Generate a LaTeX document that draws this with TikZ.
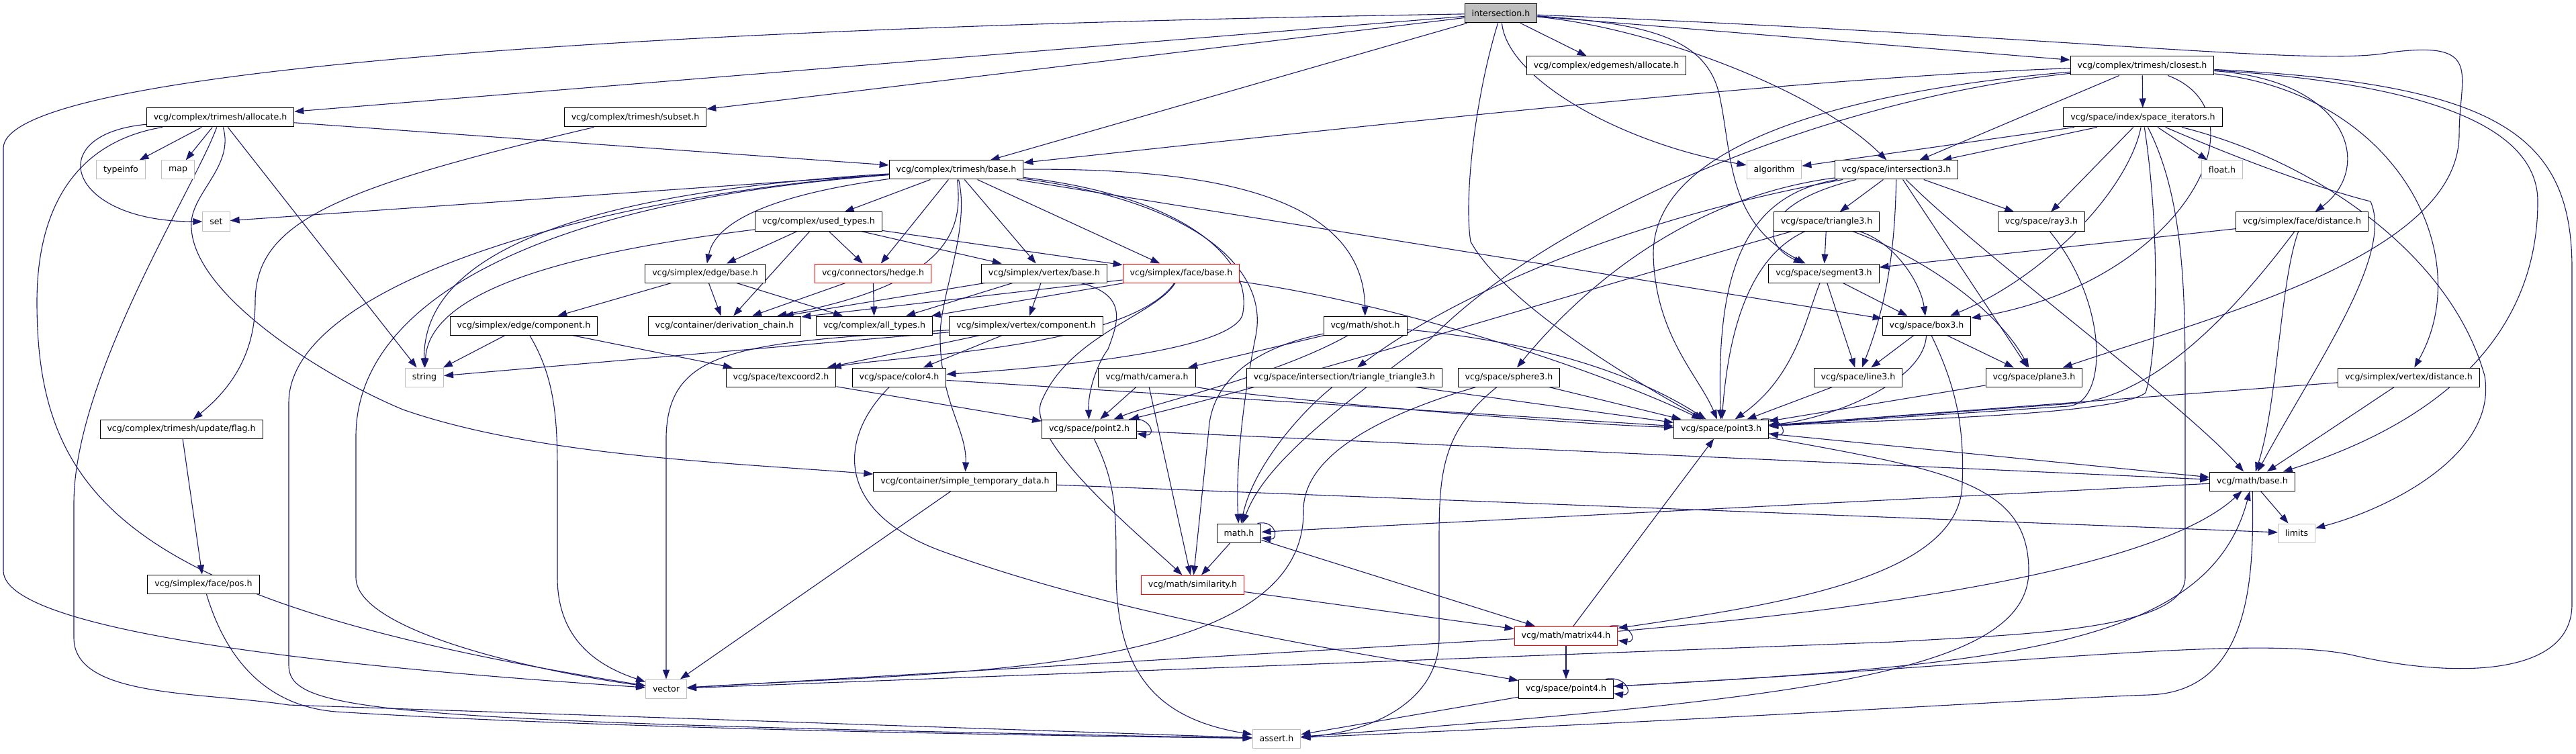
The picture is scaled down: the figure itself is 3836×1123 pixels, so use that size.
\documentclass[tikz,border=0pt]{standalone}
\usepackage{fontspec}
\setmainfont{DejaVu Sans}
\usetikzlibrary{arrows.meta,backgrounds,calc}
\definecolor{edgeblue}{RGB}{25,25,112}
\definecolor{sysgray}{RGB}{191,191,191}
\tikzset{
  header-node/.style={draw=black, line width=1pt, fill=white, font=\fontsize{12.6}{14}\selectfont,
    inner xsep=10.5pt, inner ysep=0pt, minimum height=28pt},
  truncated-node/.style={header-node, draw=red},
  system-node/.style={header-node, draw=sysgray},
  root-node/.style={header-node, fill=sysgray},
  include-arrow/.style={-{Triangle[length=14pt,width=10pt]}, line width=1.1pt, draw=edgeblue}
}
\begin{document}
\begin{tikzpicture}[x=1pt,y=-1pt]
\useasboundingbox (0,0) rectangle (3836,1123);
% headers, row by row
\node[root-node] (inter) at (2235,20) {intersection.h};
\node[header-node] (emalloc) at (2392,98) {vcg/complex/edgemesh/allocate.h};
\node[header-node] (closest) at (3190,98) {vcg/complex/trimesh/closest.h};
\node[header-node] (tmalloc) at (328,175) {vcg/complex/trimesh/allocate.h};
\node[header-node] (subset) at (946,175) {vcg/complex/trimesh/subset.h};
\node[header-node] (spaceit) at (3191,175) {vcg/space/index/space\_iterators.h};
\node[system-node] (typeinfo) at (180,253) {typeinfo};
\node[system-node] (map) at (265,253) {map};
\node[header-node] (tmbase) at (1424,253) {vcg/complex/trimesh/base.h};
\node[system-node] (algorithm) at (2642,253) {algorithm};
\node[header-node] (isect3) at (2824,253) {vcg/space/intersection3.h};
\node[system-node] (floath) at (3309,253) {float.h};
\node[system-node] (set) at (322,330) {set};
\node[header-node] (usedtypes) at (1219,330) {vcg/complex/used\_types.h};
\node[header-node] (tri3) at (2720,330) {vcg/space/triangle3.h};
\node[header-node] (ray3) at (3040,330) {vcg/space/ray3.h};
\node[header-node] (facedist) at (3428,330) {vcg/simplex/face/distance.h};
\node[header-node] (edgebase) at (1050,407) {vcg/simplex/edge/base.h};
\node[truncated-node] (hedge) at (1300,407) {vcg/connectors/hedge.h};
\node[header-node] (vertbase) at (1555,407) {vcg/simplex/vertex/base.h};
\node[truncated-node] (facebase) at (1759,407) {vcg/simplex/face/base.h};
\node[header-node] (seg3) at (2716,407) {vcg/space/segment3.h};
\node[header-node] (edgecomp) at (780,485) {vcg/simplex/edge/component.h};
\node[header-node] (derivchain) at (1079,485) {vcg/container/derivation\_chain.h};
\node[header-node] (alltypes) at (1302,485) {vcg/complex/all\_types.h};
\node[header-node] (vertcomp) at (1528,485) {vcg/simplex/vertex/component.h};
\node[header-node] (shot) at (2033,485) {vcg/math/shot.h};
\node[header-node] (box3) at (2869,485) {vcg/space/box3.h};
\node[system-node] (string) at (632,562) {string};
\node[header-node] (texcoord2) at (1163,562) {vcg/space/texcoord2.h};
\node[header-node] (color4) at (1339,562) {vcg/space/color4.h};
\node[header-node] (camera) at (1708,562) {vcg/math/camera.h};
\node[header-node] (tritri3) at (2002,562) {vcg/space/intersection/triangle\_triangle3.h};
\node[header-node] (sphere3) at (2247,562) {vcg/space/sphere3.h};
\node[header-node] (line3) at (2767,562) {vcg/space/line3.h};
\node[header-node] (plane3) at (3029,562) {vcg/space/plane3.h};
\node[header-node] (vertdist) at (3587,562) {vcg/simplex/vertex/distance.h};
\node[header-node] (flag) at (270,639) {vcg/complex/trimesh/update/flag.h};
\node[header-node] (point2) at (1622,639) {vcg/space/point2.h};
\node[header-node] (point3) at (2563,639) {vcg/space/point3.h};
\node[header-node] (simpletemp) at (1437,717) {vcg/container/simple\_temporary\_data.h};
\node[header-node] (mathbase) at (3354,717) {vcg/math/base.h};
\node[header-node] (mathh) at (1845,794) {math.h};
\node[system-node] (limits) at (3420,794) {limits};
\node[header-node] (facepos) at (303,870) {vcg/simplex/face/pos.h};
\node[truncated-node] (similarity) at (1776,871) {vcg/math/similarity.h};
\node[truncated-node] (matrix44) at (2332,947) {vcg/math/matrix44.h};
\node[system-node] (vector) at (992,1026) {vector};
\node[header-node] (point4) at (2332,1026) {vcg/space/point4.h};
\node[system-node] (assert) at (1901,1100) {assert.h};
% include edges, behind the boxes
\begin{scope}[on background layer]
% intersection.h
\draw[include-arrow] (inter) -- (tmalloc);
\draw[include-arrow] (inter) -- (subset);
\draw[include-arrow] (inter) -- (tmbase);
\draw[include-arrow] (inter) -- (emalloc);
\draw[include-arrow] (inter) .. controls (2245,120) and (2420,215) .. (algorithm);
\draw[include-arrow] (inter) -- (closest);
\draw[include-arrow] (inter) .. controls (2450,40) and (2700,130) .. (isect3);
\draw[include-arrow] (inter) .. controls (2450,35) and (2540,55) .. (2560,140) .. controls (2580,230) and (2570,330) .. (seg3);
\draw[include-arrow] (inter) .. controls (2195,150) and (2180,300) .. (2190,360) .. controls (2240,450) and (2420,560) .. (point3);
\draw[include-arrow] (inter) .. controls (1000,40) and (10,100) .. (5,220) -- (5,850) .. controls (5,950) and (600,1000) .. (vector);
\draw[include-arrow] (inter) .. controls (3100,55) and (3450,100) .. (3560,78) .. controls (3700,60) and (3662,110) .. (3662,200) .. controls (3662,380) and (3300,470) .. (plane3);
% closest.h
\draw[include-arrow] (closest) .. controls (2700,115) and (2150,175) .. (tmbase);
\draw[include-arrow] (closest) -- (spaceit);
\draw[include-arrow] (closest) -- (isect3);
\draw[include-arrow] (closest) .. controls (3380,170) and (3250,420) .. (box3);
\draw[include-arrow] (closest) .. controls (3500,120) and (3535,250) .. (facedist);
\draw[include-arrow] (closest) .. controls (3570,140) and (3690,380) .. (vertdist);
\draw[include-arrow] (closest) .. controls (3620,125) and (3779,190) .. (3779,300) .. controls (3779,480) and (3660,620) .. (mathbase);
\draw[include-arrow] (closest) .. controls (3720,125) and (3830,200) .. (3830,400) -- (3830,900) .. controls (3830,1010) and (3650,1010) .. (3500,975) .. controls (3350,945) and (3000,990) .. (point4);
\draw[include-arrow] (closest) .. controls (2700,140) and (2460,230) .. (2462,380) .. controls (2465,500) and (2530,560) .. (point3);
\draw[include-arrow] (closest) .. controls (2700,150) and (2300,330) .. (2130,505) .. controls (1960,630) and (1880,700) .. (mathh);
% space_iterators.h
\draw[include-arrow] (spaceit) -- (isect3);
\draw[include-arrow] (spaceit) -- (algorithm);
\draw[include-arrow] (spaceit) -- (ray3);
\draw[include-arrow] (spaceit) .. controls (3170,280) and (3050,410) .. (box3);
\draw[include-arrow] (spaceit) -- (floath);
\draw[include-arrow] (spaceit) .. controls (3215,330) and (3215,520) .. (3195,585) .. controls (3150,620) and (2800,625) .. (point3);
\draw[include-arrow] (spaceit) .. controls (3255,300) and (3254,450) .. (3254,600) -- (3254,860) .. controls (3254,940) and (3000,945) .. (2820,956) -- (vector);
\draw[include-arrow] (spaceit) .. controls (3330,235) and (3450,280) .. (3530,300) .. controls (3565,380) and (3450,540) .. (mathbase);
\draw[include-arrow] (spaceit) .. controls (3450,240) and (3650,380) .. (3700,560) .. controls (3720,680) and (3550,760) .. (limits);
% intersection3.h
\draw[include-arrow] (isect3) -- (tri3);
\draw[include-arrow] (isect3) .. controls (2630,300) and (2615,360) .. (seg3);
\draw[include-arrow] (isect3) -- (ray3);
\draw[include-arrow] (isect3) -- (plane3);
\draw[include-arrow] (isect3) .. controls (2822,350) and (2815,440) .. (line3);
\draw[include-arrow] (isect3) .. controls (2950,380) and (3250,600) .. (mathbase);
\draw[include-arrow] (isect3) .. controls (2540,290) and (2380,400) .. (sphere3);
\draw[include-arrow] (isect3) .. controls (2400,330) and (2150,450) .. (tritri3);
\draw[include-arrow] (isect3) .. controls (2600,290) and (2555,400) .. (point3);
% triangle3.h, segment3.h, box3.h
\draw[include-arrow] (tri3) -- (seg3);
\draw[include-arrow] (tri3) .. controls (2820,360) and (2860,420) .. (box3);
\draw[include-arrow] (tri3) .. controls (2880,390) and (2980,470) .. (plane3);
\draw[include-arrow] (tri3) .. controls (2610,380) and (2575,480) .. (point3);
\draw[include-arrow] (tri3) .. controls (2400,420) and (1950,560) .. (point2);
\draw[include-arrow] (seg3) -- (box3);
\draw[include-arrow] (seg3) -- (line3);
\draw[include-arrow] (seg3) .. controls (2690,470) and (2675,560) .. (point3);
\draw[include-arrow] (box3) -- (line3);
\draw[include-arrow] (box3) -- (plane3);
\draw[include-arrow] (box3) .. controls (2866,570) and (2720,625) .. (point3);
\draw[include-arrow] (box3) .. controls (2915,580) and (2925,640) .. (2922,720) .. controls (2920,860) and (2650,900) .. (matrix44);
\draw[include-arrow] (line3) -- (point3);
\draw[include-arrow] (plane3) -- (point3);
\draw[include-arrow] (ray3) .. controls (3140,450) and (3140,600) .. (3080,605) -- (point3);
% sphere3.h, triangle_triangle3.h
\draw[include-arrow] (sphere3) -- (point3);
\draw[include-arrow] (sphere3) .. controls (2050,620) and (1941,680) .. (1941,760) .. controls (1945,1010) and (1400,1000) .. (vector);
\draw[include-arrow] (sphere3) .. controls (2150,640) and (2143,700) .. (2143,800) -- (2143,950) .. controls (2143,1040) and (2050,1090) .. (assert);
\draw[include-arrow] (tritri3) -- (point3);
\draw[include-arrow] (tritri3) .. controls (1930,620) and (1865,700) .. (mathh);
% distance headers
\draw[include-arrow] (facedist) .. controls (3395,420) and (3392,600) .. (mathbase);
\draw[include-arrow] (facedist) -- (seg3);
\draw[include-arrow] (facedist) .. controls (3330,460) and (3220,580) .. (3100,600) -- (point3);
\draw[include-arrow] (vertdist) -- (mathbase);
\draw[include-arrow] (vertdist) -- (point3);
% math/base.h and below
\draw[include-arrow] (mathbase) -- (limits);
\draw[include-arrow] (mathbase) -- (mathh);
\draw[include-arrow] (mathbase) .. controls (3356,850) and (3356,1030) .. (3200,1035) .. controls (3050,1040) and (2600,1070) .. (assert);
\draw[include-arrow] (simpletemp) -- (limits);
\draw[include-arrow] (simpletemp) -- (vector);
\draw[include-arrow] (point3) -- (mathbase);
\draw[include-arrow] (point3) .. controls (2900,700) and (3021,720) .. (3021,850) .. controls (3021,1000) and (2700,1040) .. (assert);
\draw[include-arrow] ([xshift=-12pt]point3.north east) .. controls +(32,-6) and +(30,4) .. ([yshift=-7pt]point3.east);
\draw[include-arrow] (matrix44) -- (point3);
\draw[include-arrow] (matrix44) -- (point4);
\draw[include-arrow] (matrix44) -- (vector);
\draw[include-arrow] (matrix44) .. controls (2700,915) and (3200,860) .. (mathbase);
\draw[include-arrow] ([xshift=-12pt]matrix44.north east) .. controls +(32,-6) and +(30,4) .. ([yshift=-7pt]matrix44.east);
\draw[include-arrow] (point4) -- (assert);
\draw[include-arrow] (point4) .. controls (3000,990) and (3290,960) .. (mathbase);
\draw[include-arrow] ([xshift=-12pt]point4.north east) .. controls +(32,-6) and +(30,4) .. ([yshift=-7pt]point4.east);
\draw[include-arrow] (point2) -- (mathbase);
\draw[include-arrow] (point2) .. controls (1662,720) and (1662,760) .. (1662,850) .. controls (1662,1000) and (1720,1070) .. (assert);
\draw[include-arrow] ([xshift=-12pt]point2.north east) .. controls +(32,-6) and +(30,4) .. ([yshift=-7pt]point2.east);
\draw[include-arrow] ([xshift=-6pt]mathh.north east) .. controls +(28,-6) and +(26,4) .. ([yshift=-7pt]mathh.east);
\draw[include-arrow] (mathh) -- (similarity);
\draw[include-arrow] (mathh) -- (matrix44);
\draw[include-arrow] (similarity) -- (matrix44);
% camera.h, shot.h, color4.h, texcoord2.h
\draw[include-arrow] (camera) -- (point2);
\draw[include-arrow] (camera) -- (similarity);
\draw[include-arrow] (camera) .. controls (1850,590) and (2300,630) .. (point3);
\draw[include-arrow] (shot) -- (camera);
\draw[include-arrow] (shot) .. controls (1900,560) and (1720,600) .. (point2);
\draw[include-arrow] (shot) .. controls (1880,515) and (1805,560) .. (1800,640) -- (similarity);
\draw[include-arrow] (shot) .. controls (2300,510) and (2440,560) .. (point3);
\draw[include-arrow] (texcoord2) -- (point2);
\draw[include-arrow] (color4) -- (point3);
\draw[include-arrow] (color4) .. controls (1250,650) and (1240,760) .. (1400,820) .. controls (1700,930) and (2100,985) .. (point4);
% simplex headers
\draw[include-arrow] (vertcomp) -- (texcoord2);
\draw[include-arrow] (vertcomp) -- (color4);
\draw[include-arrow] (vertcomp) -- (string);
\draw[include-arrow] (vertcomp) .. controls (1100,510) and (995,520) .. (992,650) -- (vector);
\draw[include-arrow] (vertbase) -- (derivchain);
\draw[include-arrow] (vertbase) -- (alltypes);
\draw[include-arrow] (vertbase) -- (vertcomp);
\draw[include-arrow] (vertbase) .. controls (1680,440) and (1665,480) .. (1650,520) .. controls (1635,540) and (1620,580) .. (point2);
\draw[include-arrow] (facebase) -- (derivchain);
\draw[include-arrow] (facebase) -- (alltypes);
\draw[include-arrow] (facebase) .. controls (1680,520) and (1330,530) .. (texcoord2);
\draw[include-arrow] (facebase) .. controls (2100,455) and (2400,560) .. (point3);
\draw[include-arrow] (facebase) .. controls (1720,470) and (1590,500) .. (1550,600) .. controls (1530,660) and (1700,800) .. (similarity);
\draw[include-arrow] (hedge) -- (derivchain);
\draw[include-arrow] (hedge) -- (alltypes);
\draw[include-arrow] (edgebase) -- (edgecomp);
\draw[include-arrow] (edgebase) -- (derivchain);
\draw[include-arrow] (edgebase) -- (alltypes);
\draw[include-arrow] (edgecomp) -- (string);
\draw[include-arrow] (edgecomp) .. controls (825,560) and (830,620) .. (830,700) -- (830,860) .. controls (830,960) and (900,995) .. (vector);
\draw[include-arrow] (edgecomp) -- (texcoord2);
% used_types.h
\draw[include-arrow] (usedtypes) -- (edgebase);
\draw[include-arrow] (usedtypes) -- (hedge);
\draw[include-arrow] (usedtypes) -- (vertbase);
\draw[include-arrow] (usedtypes) -- (facebase);
\draw[include-arrow] (usedtypes) -- (derivchain);
\draw[include-arrow] (usedtypes) .. controls (900,370) and (640,420) .. (string);
% trimesh/base.h
\draw[include-arrow] (tmbase) -- (usedtypes);
\draw[include-arrow] (tmbase) .. controls (1150,290) and (1065,330) .. (edgebase);
\draw[include-arrow] (tmbase) -- (hedge);
\draw[include-arrow] (tmbase) -- (vertbase);
\draw[include-arrow] (tmbase) -- (facebase);
\draw[include-arrow] (tmbase) .. controls (1432,330) and (1430,420) .. (derivchain);
\draw[include-arrow] (tmbase) -- (set);
\draw[include-arrow] (tmbase) .. controls (800,290) and (630,400) .. (string);
\draw[include-arrow] (tmbase) .. controls (800,300) and (530,450) .. (530,650) -- (530,860) .. controls (530,940) and (800,1000) .. (vector);
\draw[include-arrow] (tmbase) .. controls (900,290) and (430,420) .. (430,600) -- (430,990) .. controls (430,1060) and (550,1075) .. (assert);
\draw[include-arrow] (tmbase) .. controls (1800,250) and (2030,290) .. (shot);
\draw[include-arrow] (tmbase) -- (box3);
\draw[include-arrow] (tmbase) .. controls (1750,290) and (1870,380) .. (1850,470) .. controls (1830,520) and (1600,545) .. (color4);
\draw[include-arrow] (tmbase) .. controls (1780,300) and (1890,400) .. (1870,500) .. controls (1850,600) and (1840,700) .. (mathh);
\draw[include-arrow] (tmbase) .. controls (1445,340) and (1400,440) .. (1400,500) .. controls (1400,600) and (1440,640) .. (simpletemp);
% trimesh/allocate.h, subset.h, flag.h, pos.h
\draw[include-arrow] (tmalloc) -- (typeinfo);
\draw[include-arrow] (tmalloc) -- (map);
\draw[include-arrow] (tmalloc) .. controls (60,200) and (100,330) .. (set);
\draw[include-arrow] (tmalloc) -- (string);
\draw[include-arrow] (tmalloc) -- (tmbase);
\draw[include-arrow] (tmalloc) .. controls (120,210) and (55,300) .. (55,450) .. controls (55,750) and (200,900) .. (vector);
\draw[include-arrow] (tmalloc) .. controls (290,280) and (110,560) .. (110,750) -- (110,950) .. controls (110,1040) and (300,1030) .. (430,1050) -- (assert);
\draw[include-arrow] (tmalloc) .. controls (350,250) and (280,290) .. (285,340) .. controls (290,440) and (480,560) .. (600,610) .. controls (800,680) and (1100,690) .. (simpletemp);
\draw[include-arrow] (subset) .. controls (500,280) and (380,330) .. (380,450) .. controls (380,540) and (330,590) .. (flag);
\draw[include-arrow] (flag) -- (facepos);
\draw[include-arrow] (facepos) .. controls (330,960) and (380,1050) .. (500,1060) .. controls (900,1085) and (1500,1095) .. (assert);
\end{scope}
\end{tikzpicture}
\end{document}
